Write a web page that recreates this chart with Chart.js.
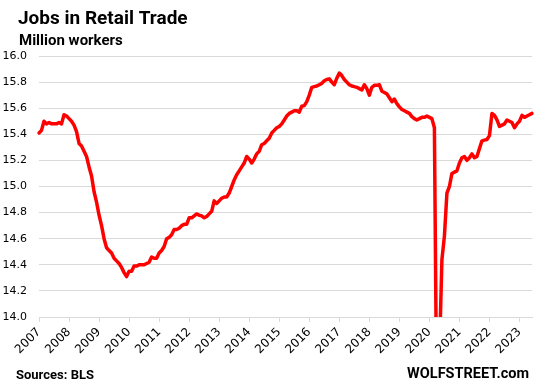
<!DOCTYPE html>
<html>
<head>
<meta charset="utf-8">
<title>Jobs in Retail Trade</title>
<script src="https://cdn.jsdelivr.net/npm/chart.js@4.4.0/dist/chart.umd.min.js"></script>
<style>
  html, body { margin: 0; padding: 0; background: #fff; }
  canvas { display: block; }
</style>
</head>
<body>
<canvas id="jobschart" width="536" height="388"></canvas>
<script>
// year tick labels, one per January
var years = ["2007", "2008", "2009", "2010", "2011", "2012", "2013", "2014", "2015",
             "2016", "2017", "2018", "2019", "2020", "2021", "2022", "2023"];
var monthNames = ["Jan", "Feb", "Mar", "Apr", "May", "Jun", "Jul", "Aug", "Sep", "Oct", "Nov", "Dec"];

// retail trade jobs, million workers, monthly from Jan 2007
var jobs = [
  15.41, 15.43, 15.50, 15.48, 15.49, 15.48, 15.48, 15.48, 15.49, 15.48, 15.55, 15.54, // 2007
  15.52, 15.50, 15.47, 15.42, 15.33, 15.31, 15.27, 15.23, 15.15, 15.08, 14.96, 14.88, // 2008
  14.78, 14.70, 14.60, 14.53, 14.51, 14.49, 14.45, 14.43, 14.41, 14.38, 14.34, 14.31, // 2009
  14.35, 14.35, 14.39, 14.39, 14.40, 14.40, 14.40, 14.41, 14.42, 14.46, 14.45, 14.45, // 2010
  14.49, 14.51, 14.54, 14.60, 14.61, 14.63, 14.67, 14.67, 14.68, 14.70, 14.71, 14.71, // 2011
  14.76, 14.76, 14.775, 14.79, 14.78, 14.775, 14.76, 14.77, 14.79, 14.81, 14.89, 14.87, // 2012
  14.89, 14.91, 14.92, 14.92, 14.95, 15.00, 15.05, 15.09, 15.12, 15.15, 15.18, 15.23, // 2013
  15.21, 15.18, 15.21, 15.25, 15.27, 15.32, 15.33, 15.35, 15.37, 15.41, 15.43, 15.45, // 2014
  15.46, 15.48, 15.51, 15.54, 15.56, 15.57, 15.58, 15.58, 15.57, 15.615, 15.62, 15.65, // 2015
  15.70, 15.76, 15.765, 15.77, 15.78, 15.79, 15.81, 15.82, 15.825, 15.80, 15.78, 15.83, // 2016
  15.87, 15.85, 15.82, 15.80, 15.78, 15.77, 15.765, 15.76, 15.75, 15.74, 15.78, 15.75, // 2017
  15.70, 15.76, 15.775, 15.775, 15.78, 15.73, 15.72, 15.71, 15.68, 15.65, 15.67, 15.635, // 2018
  15.61, 15.59, 15.58, 15.57, 15.56, 15.535, 15.52, 15.51, 15.52, 15.53, 15.53, 15.54, // 2019
  15.53, 15.52, 15.45, 13.15, 13.70, 14.44, 14.62, 14.95, 15.00, 15.10, 15.11, 15.12, // 2020
  15.18, 15.22, 15.23, 15.20, 15.22, 15.25, 15.22, 15.23, 15.29, 15.35, 15.355, 15.36, // 2021
  15.39, 15.56, 15.545, 15.51, 15.46, 15.47, 15.48, 15.51, 15.50, 15.49, 15.45, 15.48, // 2022
  15.50, 15.545, 15.53, 15.54, 15.55, 15.56                                          // 2023
];

var months = jobs.map(function (v, i) {
  return monthNames[i % 12] + " " + years[Math.floor(i / 12)];
});

var gridGrey = "#d9d9d9";

// title, unit and footer texts
var headerFooter = {
  id: "headerFooter",
  afterDraw: function (chart) {
    var ctx = chart.ctx;
    ctx.save();
    ctx.fillStyle = "#000";
    ctx.textBaseline = "alphabetic";
    ctx.textAlign = "left";
    ctx.font = "bold 19px Roboto";
    ctx.fillText("Jobs in Retail Trade", 18, 24);
    ctx.font = "bold 15px Roboto";
    ctx.fillText("Million workers", 19, 45);
    ctx.font = "bold 13px Roboto";
    ctx.fillText("Sources: BLS", 16, 378.5);
    ctx.textAlign = "right";
    ctx.font = "bold 14.5px Roboto";
    ctx.fillText("WOLFSTREET.com", 529, 378);
    ctx.restore();
  }
};

var canvasElement = document.getElementById("jobschart");
var config = {
  type: "line",
  data: {
    labels: months,
    datasets: [{
      label: "Jobs in Retail Trade",
      data: jobs,
      borderColor: "#ff0000",
      borderWidth: 3.5,
      borderJoinStyle: "round",
      borderCapStyle: "round",
      pointRadius: 0,
      tension: 0,
      fill: false
    }]
  },
  options: {
    responsive: false,
    animation: false,
    devicePixelRatio: 1,
    layout: { padding: { top: 56, right: 4, bottom: 21, left: 0 } },
    plugins: {
      legend: { display: false },
      tooltip: { enabled: false }
    },
    scales: {
      x: {
        type: "category",
        offset: false,
        afterBuildTicks: function (scale) {
          scale.ticks = scale.ticks.filter(function (t) { return t.value % 12 === 0; });
        },
        afterFit: function (scale) { scale.height = 50; },
        grid: { drawOnChartArea: false, drawTicks: true, tickLength: 5, color: gridGrey },
        border: { display: true, color: gridGrey },
        ticks: {
          autoSkip: false,
          minRotation: 45,
          maxRotation: 45,
          padding: 3,
          color: "#000",
          font: { family: "DejaVu Sans", size: 12 },
          callback: function (value) { return years[value / 12]; }
        }
      },
      y: {
        min: 14,
        max: 16,
        afterFit: function (scale) { scale.width = 39; },
        grid: { color: gridGrey, drawTicks: false },
        border: { display: false },
        ticks: {
          stepSize: 0.2,
          padding: 12,
          color: "#000",
          font: { family: "DejaVu Sans", size: 11 },
          callback: function (value) { return value.toFixed(1); }
        }
      }
    }
  },
  plugins: [headerFooter]
};
var jobschart = new Chart(canvasElement, config);
</script>
</body>
</html>
